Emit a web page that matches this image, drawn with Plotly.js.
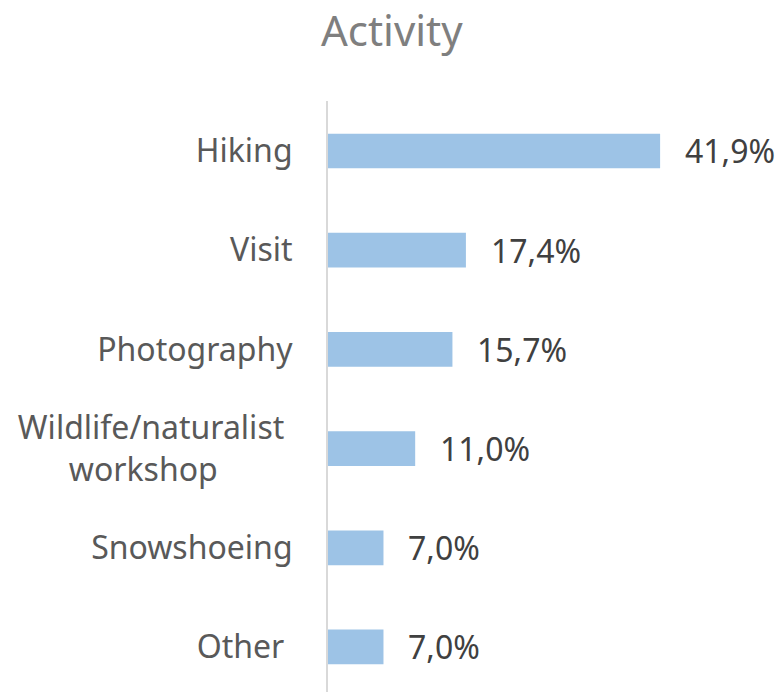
<!DOCTYPE html>
<html>
<head>
<meta charset="utf-8">
<script src="https://cdn.plot.ly/plotly-3.0.1.min.js"></script>
<style>html,body{margin:0;padding:0;background:#fff}#chart{width:779px;height:692px}</style>
</head>
<body>
<div id="chart"></div>
<script>
const categories = ["Hiking", "Visit", "Photography", "Wildlife/naturalist <br>workshop\u00a0\u00a0\u00a0\u00a0\u00a0\u00a0\u00a0\u00a0\u00a0", "Snowshoeing", "Other "];
const shares = [41.9, 17.4, 15.7, 11.0, 7.0, 7.0];
const valueLabels = shares.map(v => v.toFixed(1).replace('.', ',') + '%');

const font = "Noto Sans, DejaVu Sans, sans-serif";

const trace = {
  type: 'bar',
  orientation: 'h',
  x: shares,
  y: categories,
  marker: {color: '#9DC3E6', line: {width: 0}},
  width: 0.35,
  hoverinfo: 'none'
};

const annotations = shares.map((v, i) => ({
  x: v, y: categories[i], xref: 'x', yref: 'y',
  text: valueLabels[i], showarrow: false,
  xanchor: 'left', yanchor: 'middle', xshift: 23,
  font: {family: font, size: 32, color: '#404040'}
}));

const layout = {
  width: 779, height: 692,
  margin: {l: 328, r: 0, t: 101, b: 0},
  paper_bgcolor: '#ffffff', plot_bgcolor: '#ffffff',
  showlegend: false,
  title: {
    text: 'Activity', x: 0.503, xref: 'container', xanchor: 'center',
    y: 0.955, yref: 'container', yanchor: 'middle',
    font: {family: font, size: 42, color: '#7F7F7F'}
  },
  xaxis: {range: [0, 56.9], visible: false, showgrid: false, zeroline: false, fixedrange: true},
  yaxis: {
    type: 'category',
    range: [5.454, -0.504],
    showline: true, linecolor: '#D9D9D9', linewidth: 2,
    showgrid: false, zeroline: false, ticks: '',
    ticklabelstandoff: 27,
    tickfont: {family: font, size: 32, color: '#595959'},
    fixedrange: true
  },
  annotations: annotations
};

Plotly.newPlot('chart', [trace], layout, {displayModeBar: false, staticPlot: true});
</script>
</body>
</html>
